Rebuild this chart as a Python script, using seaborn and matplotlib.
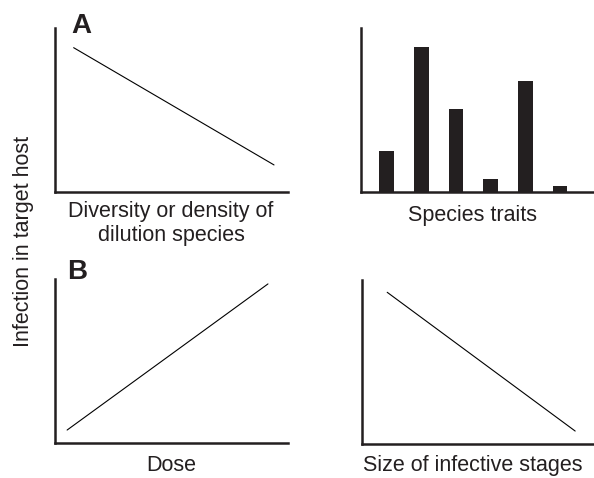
import matplotlib
matplotlib.use("Agg")
import matplotlib.pyplot as plt
import seaborn as sns
import pandas as pd

sns.set_theme(style="white")
plt.rcParams['font.family'] = ['Liberation Sans', 'DejaVu Sans']

# Data (schematic, normalized 0-1)
dilution_x = [0.08, 0.94]
dilution_y = [0.88, 0.165]
trait_categories = ["t1", "t2", "t3", "t4", "t5", "t6"]
trait_values = [0.252, 0.884, 0.506, 0.079, 0.675, 0.038]
dose_x = [0.052, 0.914]
dose_y = [0.079, 0.970]
size_x = [0.111, 0.923]
size_y = [0.925, 0.079]

xlabels = ["Diversity or density of\ndilution species", "Species traits", "Dose", "Size of infective stages"]
panel_letters = ["A", "B"]
ylabel = "Infection in target host"

W, H = 594, 478
fig = plt.figure(figsize=(W / 100, H / 100), dpi=100)

def axrect(l, t, r, b):
    return [l / W, 1 - b / H, (r - l) / W, (b - t) / H]

axA = fig.add_axes(axrect(55, 28, 288, 192))
axT = fig.add_axes(axrect(361, 28, 593, 192))
axB = fig.add_axes(axrect(55, 279, 288, 443))
axS = fig.add_axes(axrect(361.5, 280, 593, 444))

lw_line = 0.8
sns.lineplot(x=dilution_x, y=dilution_y, ax=axA, color="black", linewidth=lw_line)
sns.lineplot(x=dose_x, y=dose_y, ax=axB, color="black", linewidth=lw_line)
sns.lineplot(x=size_x, y=size_y, ax=axS, color="black", linewidth=lw_line)

df = pd.DataFrame({"trait": trait_categories, "value": trait_values})
sns.barplot(data=df, x="trait", y="value", ax=axT, color="#231f20", width=0.42,
            saturation=1, edgecolor="none")
axT.set_xlim(-0.735, 5.945)

for ax in (axA, axB, axS):
    ax.set_xlim(0, 1)
for ax in (axA, axT, axB, axS):
    ax.set_ylim(0, 1)
    ax.set_xticks([])
    ax.set_yticks([])
    ax.set_xlabel("")
    ax.set_ylabel("")
    for s in ("top", "right"):
        ax.spines[s].set_visible(False)
    for s in ("left", "bottom"):
        ax.spines[s].set_color("#231f20")
        ax.spines[s].set_linewidth(1.8)
    ax.set_facecolor("white")

fs = 15.5
tc = "#231f20"
fig.text(171 / W, 1 - 201 / H, xlabels[0], ha="center", va="top", fontsize=fs, color=tc, linespacing=1.2)
fig.text(473 / W, 1 - 205 / H, xlabels[1], ha="center", va="top", fontsize=fs, color=tc)
fig.text(171 / W, 1 - 455 / H, xlabels[2], ha="center", va="top", fontsize=fs, color=tc)
fig.text(473 / W, 1 - 455 / H, xlabels[3], ha="center", va="top", fontsize=fs, color=tc)

fig.text(24 / W, 1 - 241 / H, ylabel, rotation=90, ha="center", va="center", fontsize=fs, color=tc)

fig.text(71 / W, 1 - 13 / H, panel_letters[0], ha="left", va="top", fontsize=20, fontweight="bold", color=tc)
fig.text(67 / W, 1 - 259 / H, panel_letters[1], ha="left", va="top", fontsize=20, fontweight="bold", color=tc)

fig.savefig("out.png", dpi=100, facecolor="white")
